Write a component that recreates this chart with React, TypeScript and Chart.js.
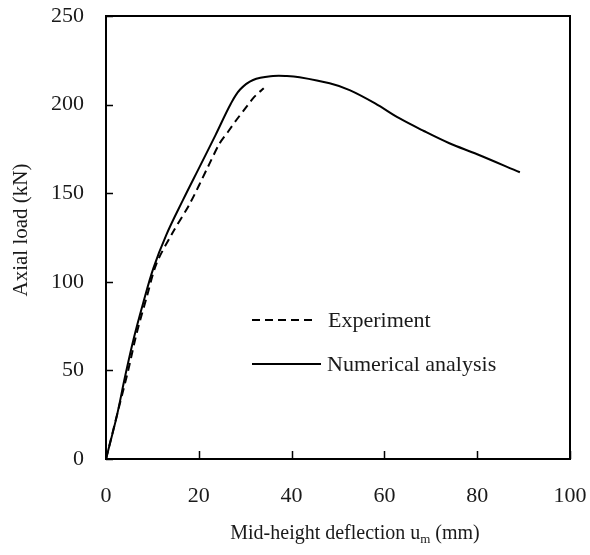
import React, { useEffect, useRef } from "react";
import { Chart, registerables } from "chart.js";

Chart.register(...registerables);

const numX = [0, 2.3, 4.1, 5.9, 8.0, 10.2, 13.0, 16.6, 20.2, 23.6, 26.9, 28.9, 31.7, 36, 39, 41.7, 48.2, 52.5, 58, 63.2, 68.5, 74, 80, 89.2];
const numY = [0, 23.9, 46.4, 67.2, 87.9, 107.6, 126.5, 146.2, 165, 182.8, 200.5, 208.5, 213.9, 216.1, 216.1, 215.4, 212, 208.2, 200.7, 192.3, 185.1, 178.2, 172, 161.8];

const expX = [0, 1.2, 3.0, 4.8, 6.6, 8.8, 10.9, 14.2, 18.1, 22, 24.5, 26.3, 28.1, 30.3, 32, 34];
const expY = [0, 12.6, 31.4, 50.2, 70.9, 91.6, 110.4, 127, 144.3, 165, 178.2, 184.7, 191.3, 198.8, 204.5, 209.2];

const xTicks = [0, 20, 40, 60, 80, 100];
const yTicks = [0, 50, 100, 150, 200, 250];

const labels = ["Experiment", "Numerical analysis"];
const xTitleMain = "Mid-height deflection u";
const xTitleSub = "m";
const xTitleEnd = " (mm)";
const yTitle = "Axial load (kN)";

const FONT = "'Liberation Serif', 'Times New Roman', serif";

const decorPlugin = {
  id: "decor",
  afterDraw(chart: any) {
    const { ctx, chartArea } = chart;
    const xs = chart.scales.x;
    const ys = chart.scales.y;
    const { left, right, top, bottom } = chartArea;
    ctx.save();
    ctx.strokeStyle = "#000";
    ctx.lineWidth = 1.5;
    ctx.beginPath();
    for (const v of xTicks) {
      const px = Math.round(xs.getPixelForValue(v)) + 0.5;
      ctx.moveTo(px, bottom);
      ctx.lineTo(px, bottom - 8);
    }
    for (const v of yTicks) {
      const py = Math.round(ys.getPixelForValue(v)) + 0.5;
      ctx.moveTo(left, py);
      ctx.lineTo(left + 7, py);
    }
    ctx.stroke();
    ctx.lineWidth = 2;
    ctx.strokeRect(left, top, right - left, bottom - top);

    const ds = chart.data.datasets;
    const legY = [320, 364];
    const lineStart = left + 146;
    const lineEnds = [left + 211, left + 215];
    const textX = [left + 222, left + 221];
    ctx.font = `22px ${FONT}`;
    ctx.fillStyle = "#1a1a1a";
    ctx.textBaseline = "middle";
    ctx.textAlign = "left";
    for (let i = 0; i < 2; i++) {
      ctx.beginPath();
      ctx.lineWidth = 2;
      ctx.strokeStyle = "#000";
      ctx.setLineDash(ds[i].borderDash || []);
      ctx.moveTo(lineStart, legY[i]);
      ctx.lineTo(lineEnds[i], legY[i]);
      ctx.stroke();
      ctx.setLineDash([]);
      ctx.fillText(ds[i].label, textX[i], legY[i] + 1);
    }

    ctx.textBaseline = "alphabetic";
    ctx.font = `20px ${FONT}`;
    const w1 = ctx.measureText(xTitleMain).width;
    ctx.font = `13px ${FONT}`;
    const w2 = ctx.measureText(xTitleSub).width;
    ctx.font = `20px ${FONT}`;
    const w3 = ctx.measureText(xTitleEnd).width;
    const total = w1 + w2 + w3;
    const x0 = 355 - total / 2;
    const baseY = 539;
    ctx.fillText(xTitleMain, x0, baseY);
    ctx.font = `13px ${FONT}`;
    ctx.fillText(xTitleSub, x0 + w1, baseY + 4);
    ctx.font = `20px ${FONT}`;
    ctx.fillText(xTitleEnd, x0 + w1 + w2, baseY);

    ctx.font = `21px ${FONT}`;
    ctx.save();
    ctx.translate(21, 230);
    ctx.rotate(-Math.PI / 2);
    ctx.textAlign = "center";
    ctx.textBaseline = "middle";
    ctx.fillText(yTitle, 0, 0);
    ctx.restore();
    ctx.restore();
  },
};

export default function App() {
  const ref = useRef<HTMLCanvasElement | null>(null);
  useEffect(() => {
    if (!ref.current) return;
    const chart = new Chart(ref.current, {
      type: "scatter",
      data: {
        datasets: [
          {
            label: labels[0],
            data: expX.map((x, i) => ({ x, y: expY[i] })),
            showLine: true,
            borderColor: "#000",
            borderWidth: 2,
            borderDash: [8, 5],
            pointRadius: 0,
            tension: 0.3,
          },
          {
            label: labels[1],
            data: numX.map((x, i) => ({ x, y: numY[i] })),
            showLine: true,
            borderColor: "#000",
            borderWidth: 2,
            pointRadius: 0,
            tension: 0.35,
          },
        ],
      },
      options: {
        animation: false,
        responsive: false,
        maintainAspectRatio: false,
        layout: { padding: { top: 16, right: 20, bottom: 0, left: 0 } },
        plugins: { legend: { display: false }, tooltip: { enabled: false } },
        scales: {
          x: {
            type: "linear",
            min: 0,
            max: 100,
            afterFit: (s: any) => {
              s.height = 96;
              s.paddingLeft = 0;
              s.paddingRight = 0;
            },
            afterBuildTicks: (s: any) => {
              s.ticks = xTicks.map((v) => ({ value: v }));
            },
            grid: { display: false, drawTicks: false },
            border: { display: false },
            ticks: {
              padding: 24,
              color: "#1a1a1a",
              font: { family: FONT, size: 22 },
              maxRotation: 0,
            },
          },
          y: {
            type: "linear",
            min: 0,
            max: 250,
            afterFit: (s: any) => {
              s.width = 106;
              s.paddingTop = 0;
              s.paddingBottom = 0;
            },
            afterBuildTicks: (s: any) => {
              s.ticks = yTicks.map((v) => ({ value: v }));
            },
            grid: { display: false, drawTicks: false },
            border: { display: false },
            ticks: {
              padding: 22,
              color: "#1a1a1a",
              font: { family: FONT, size: 22 },
            },
          },
        },
      },
      plugins: [decorPlugin],
    });
    return () => chart.destroy();
  }, []);
  return (
    <div style={{ position: "fixed", left: 0, top: 0, width: 590, height: 555, background: "#fff" }}>
      <canvas ref={ref} width={590} height={555} style={{ width: 590, height: 555 }} />
    </div>
  );
}
